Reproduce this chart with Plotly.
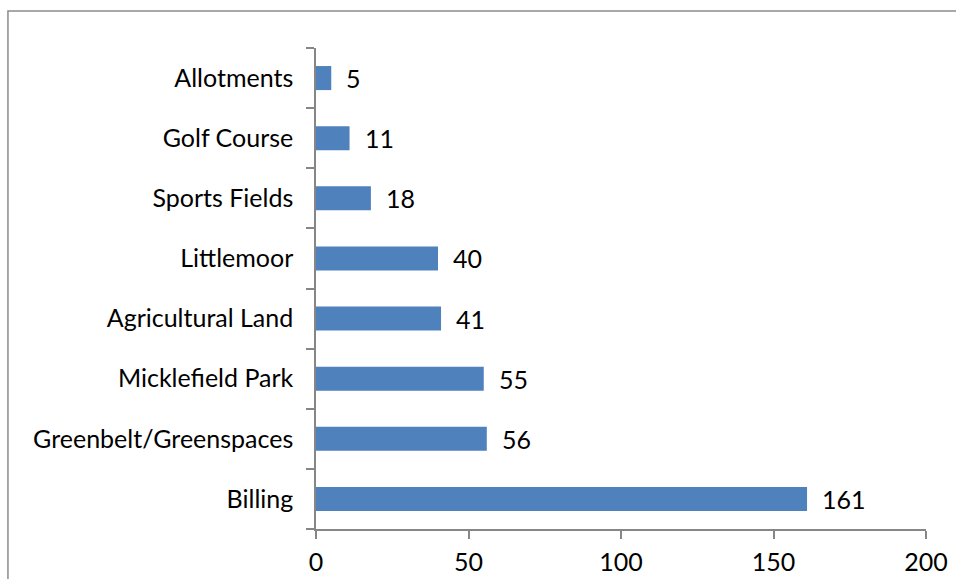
import plotly.graph_objects as go

# Responses by site, listed bottom-to-top as drawn on the category axis
sites = ["Billing", "Greenbelt/Greenspaces", "Micklefield Park", "Agricultural Land",
         "Littlemoor", "Sports Fields", "Golf Course", "Allotments"]
counts = [161, 56, 55, 41, 40, 18, 11, 5]
x_ticks = [0, 50, 100, 150, 200]

FONT = "Lato, 'Liberation Sans', sans-serif"
BAR = "#4F81BD"
AXIS = "#868686"

fig = go.Figure(go.Bar(
    x=counts, y=sites, orientation="h",
    marker=dict(color=BAR, line=dict(width=0)),
    hoverinfo="x+y",
))

# value labels just past the end of each bar
for s, v in zip(sites, counts):
    fig.add_annotation(x=v, y=s, text=str(v), showarrow=False,
                       xanchor="left", xshift=13,
                       font=dict(family=FONT, size=25, color="black"))

# chart-area frame
fig.add_shape(type="rect", xref="paper", yref="paper",
              x0=-0.505, x1=1.2, y0=-0.3, y1=1.077,
              line=dict(color="#8C8C8C", width=1.5), layer="below")

fig.update_layout(
    width=956, height=579,
    margin=dict(l=316, r=30, t=48, b=50),
    paper_bgcolor="white", plot_bgcolor="white",
    bargap=0.6, showlegend=False,
    font=dict(family=FONT, size=25, color="black"),
)
fig.update_xaxes(range=[0, 200], tickvals=x_ticks, showgrid=False, zeroline=False,
                 showline=True, linecolor=AXIS, linewidth=1.5,
                 ticks="outside", ticklen=8, tickcolor=AXIS, tickwidth=1.5,
                 ticklabelstandoff=2, automargin=False, fixedrange=True)
fig.update_yaxes(categoryorder="array", categoryarray=sites, showgrid=False,
                 showline=True, linecolor=AXIS, linewidth=1.5,
                 ticks="outside", ticklen=8, tickcolor=AXIS, tickwidth=1.5,
                 tickson="boundaries", ticklabelstandoff=16, automargin=False,
                 fixedrange=True)

fig.write_html("out.html")
